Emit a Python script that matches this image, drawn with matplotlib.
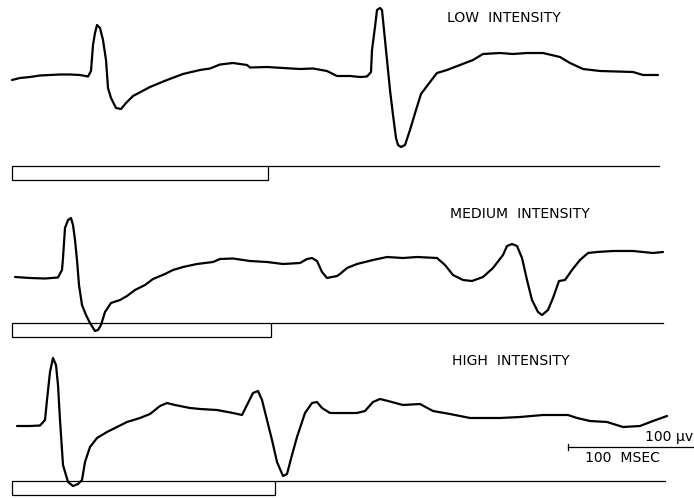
import matplotlib
matplotlib.use("Agg")
import matplotlib.pyplot as plt
from matplotlib.patches import Rectangle

# Evoked responses to a light flash at three intensities.
# Time in ms from stimulus onset, amplitude in microvolts (positive up).

low_t = [0, 6.4, 14.4, 22.4, 30.4, 38.4, 46.4, 54.4, 60.8, 63.2, 64.8, 66.4, 68, 70.4,
         72.8, 75.2, 76.8, 79.2, 83.2, 87.2, 91.2, 96.8, 110.4, 124, 136.8, 150.4, 158.4,
         166.4, 176.8, 188, 190.4, 204, 216.8, 230.4, 240.8, 252, 260, 270.4, 278.4, 284,
         287.2, 288, 290.4, 292, 294.4, 296, 297.6, 300, 302.4, 304.8, 307.2, 308.8, 311.2,
         314.4, 318.4, 323.2, 327.2, 334.4, 340, 348, 358.4, 368.8, 376.8, 390.4, 400.8,
         412, 424.8, 438.4, 446.4, 456.8, 470.4, 496.8, 504.8, 516.8]
low_uv = [-10, -6, -4, -1, 0, 1, 1, 0, -3, 8, 60, 84, 100, 94,
          70, 30, -26, -46, -66, -68, -56, -42, -24, -10, 2, 10, 13,
          21, 24, 20, 15, 16, 14, 12, 13, 8, -2, -2, -4, -3,
          6, 50, 96, 130, 134, 130, 90, 30, -30, -80, -126, -140, -144,
          -140, -110, -70, -38, -14, 4, 10, 20, 30, 42, 44, 42,
          44, 44, 36, 24, 12, 8, 6, 0, 0]

med_t = [2.4, 14.4, 26.4, 36.8, 40, 40.8, 42.4, 44.8, 47.2, 48.8, 50.4, 52, 53.6, 56,
         59.2, 62.4, 66.4, 68.8, 71.2, 74.4, 79.2, 86.4, 92, 98.4, 106.4, 112.8, 122.4,
         128.8, 136.8, 148, 160.8, 166.4, 176.8, 190.4, 204, 216.8, 230.4, 236, 240, 244,
         248, 252, 260, 262.4, 268, 276, 288.8, 300, 312.8, 324, 340, 346.4, 352.8, 360.8,
         368, 376.8, 384.8, 392.8, 396, 400, 404, 408, 412, 416, 420.8, 424, 428.8, 432.8,
         437.6, 442.4, 448, 454.4, 460.8, 468, 480.8, 496.8, 512.8, 520.8]
med_uv = [0, -2, -3, -1, 14, 38, 98, 114, 118, 104, 74, 34, -16, -56,
          -76, -92, -108, -106, -96, -70, -52, -46, -38, -26, -16, -4, 6,
          14, 20, 26, 30, 36, 37, 32, 30, 26, 28, 36, 38, 32,
          10, -2, 2, 6, 18, 26, 34, 40, 38, 40, 38, 24, 4, -6,
          -8, 0, 18, 44, 62, 66, 62, 38, -6, -46, -70, -76, -66, -42,
          -8, -6, 14, 34, 48, 50, 52, 52, 48, 50]

high_t = [4, 14.4, 22.4, 26.4, 28, 30.4, 32.8, 35.2, 36.8, 38.4, 40.8, 44.8, 48.8, 52.8,
          56, 58.4, 62.4, 68, 76, 84, 92, 102.4, 110.4, 118.4, 124, 130.4, 142.4, 150.4,
          164, 176.8, 184, 188.8, 192.8, 196.8, 200, 204, 208, 212, 216.8, 220, 224, 228,
          234.4, 240, 244, 248, 254.4, 270.4, 276, 282.4, 288.8, 294.4, 300.8, 312.8, 326.4,
          336.8, 350.4, 366.4, 382.4, 390.4, 406.4, 424.8, 444.8, 452, 462.4, 476, 488.8,
          502.4, 512.8, 524]
high_uv = [0, 0, 1, 12, 52, 108, 136, 122, 82, 12, -78, -112, -120, -116,
           -108, -72, -42, -24, -12, -2, 8, 16, 24, 40, 46, 42, 36, 34,
           32, 26, 22, 46, 66, 70, 52, 12, -28, -72, -100, -96, -58, -22,
           26, 46, 48, 36, 26, 26, 26, 30, 48, 54, 50, 42, 44,
           30, 24, 16, 16, 16, 18, 22, 22, 16, 10, 8, -2,
           0, 10, 20]

labels = ["LOW  INTENSITY", "MEDIUM  INTENSITY", "HIGH  INTENSITY"]
stim_ms = [205, 207, 210]          # flash duration shown by the open bar
sweep_end_ms = [517.6, 520.8, 522.4]

# Vertical layout of each sweep (in the same µV units)
trace_offset = [-150, -554, -852]
marker_top = [-332, -646, -962]
marker_height = 27

scale_ms = 100
scale_start_ms = 444.8
scale_y = -894.6

fig = plt.figure(figsize=(6.94, 4.98), dpi=100)
ax = fig.add_axes([0, 0, 1, 1])
ax.set_xlim(-9.6, 545.6)
ax.set_ylim(-996, 0)
ax.axis("off")

for t, v, off, top, dur, end in zip(
        [low_t, med_t, high_t], [low_uv, med_uv, high_uv],
        trace_offset, marker_top, stim_ms, sweep_end_ms):
    ax.plot(t, [off + a for a in v], color="black", lw=1.6,
            solid_joinstyle="round", solid_capstyle="round")
    ax.add_patch(Rectangle((0, top - marker_height), dur, marker_height,
                           fill=False, edgecolor="black", lw=0.9))
    ax.plot([dur, end], [top, top], color="black", lw=0.9)

# Calibration bar
ax.plot([scale_start_ms, scale_start_ms + scale_ms], [scale_y, scale_y],
        color="black", lw=0.9, clip_on=False)
ax.plot([scale_start_ms, scale_start_ms], [scale_y - 6, scale_y + 6],
        color="black", lw=0.9)

fs = 10.1
fig.text(447 / 694, 1 - 18 / 498, labels[0], fontsize=fs, ha="left", va="center")
fig.text(450 / 694, 1 - 214 / 498, labels[1], fontsize=fs, ha="left", va="center")
fig.text(452 / 694, 1 - 361 / 498, labels[2], fontsize=fs, ha="left", va="center")
fig.text(645 / 694, 1 - 437 / 498, "100 \u00b5v", fontsize=fs, ha="left", va="center")
fig.text(585 / 694, 1 - 458 / 498, "100  MSEC", fontsize=fs, ha="left", va="center")

fig.savefig("out.png", dpi=100)
